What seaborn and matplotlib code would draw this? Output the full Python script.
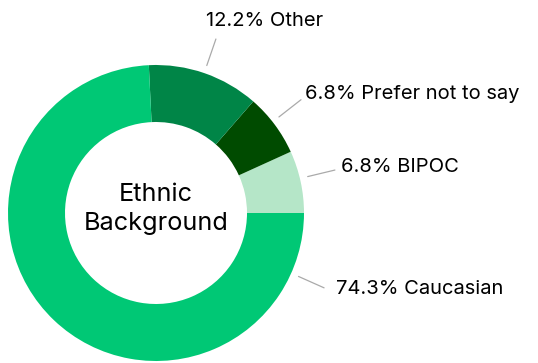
import numpy as np
import matplotlib
matplotlib.use("Agg")
import matplotlib.pyplot as plt
import seaborn as sns

# data (counter-clockwise from 3 o'clock)
labels = ["BIPOC", "Prefer not to say", "Other", "Caucasian"]
shares = [6.8, 6.8, 12.2, 74.3]
colors = ["#b5e6c8", "#004b00", "#008547", "#00c875"]

sns.set_theme(style="white")
plt.rcParams["font.family"] = ["Inter", "DejaVu Sans"]

fig = plt.figure(figsize=(5.38, 3.63), dpi=100)
ax = fig.add_axes([0, 0, 1, 1])

cx, cy = 156, 150  # donut centre in pixels (y from bottom)
r_out, r_in = 148, 91

wedges, _ = ax.pie(shares, colors=colors, startangle=0, counterclock=True,
                   center=(cx, cy), radius=r_out,
                   wedgeprops=dict(width=r_out - r_in, linewidth=0))

# pie() resets the limits, so set them afterwards
ax.set_xlim(0, 538)
ax.set_ylim(0, 363)
ax.set_aspect("equal")
ax.axis("off")

ax.text(cx, cy + 4, "Ethnic\nBackground", ha="center", va="center",
        fontsize=18.2, color="#000000", linespacing=1.3)

# label layout: angle of leader line and text anchor (pixels)
line_angle = {"BIPOC": 13.5, "Prefer not to say": 38, "Other": 71, "Caucasian": -24}
text_pos = {"BIPOC": (341, 196), "Prefer not to say": (305, 269),
            "Other": (206, 342), "Caucasian": (336, 74)}

for lab, val in zip(labels, shares):
    a = np.deg2rad(line_angle[lab])
    x0, y0 = cx + 156 * np.cos(a), cy + 156 * np.sin(a)
    x1, y1 = cx + 184 * np.cos(a), cy + 184 * np.sin(a)
    ax.plot([x0, x1], [y0, y1], color="#aaaaaa", lw=0.9)
    tx, ty = text_pos[lab]
    ax.text(tx, ty, f"{val}% {lab}", ha="left", va="center",
            fontsize=14.5, color="#000000")

fig.savefig("out.png", dpi=100)
